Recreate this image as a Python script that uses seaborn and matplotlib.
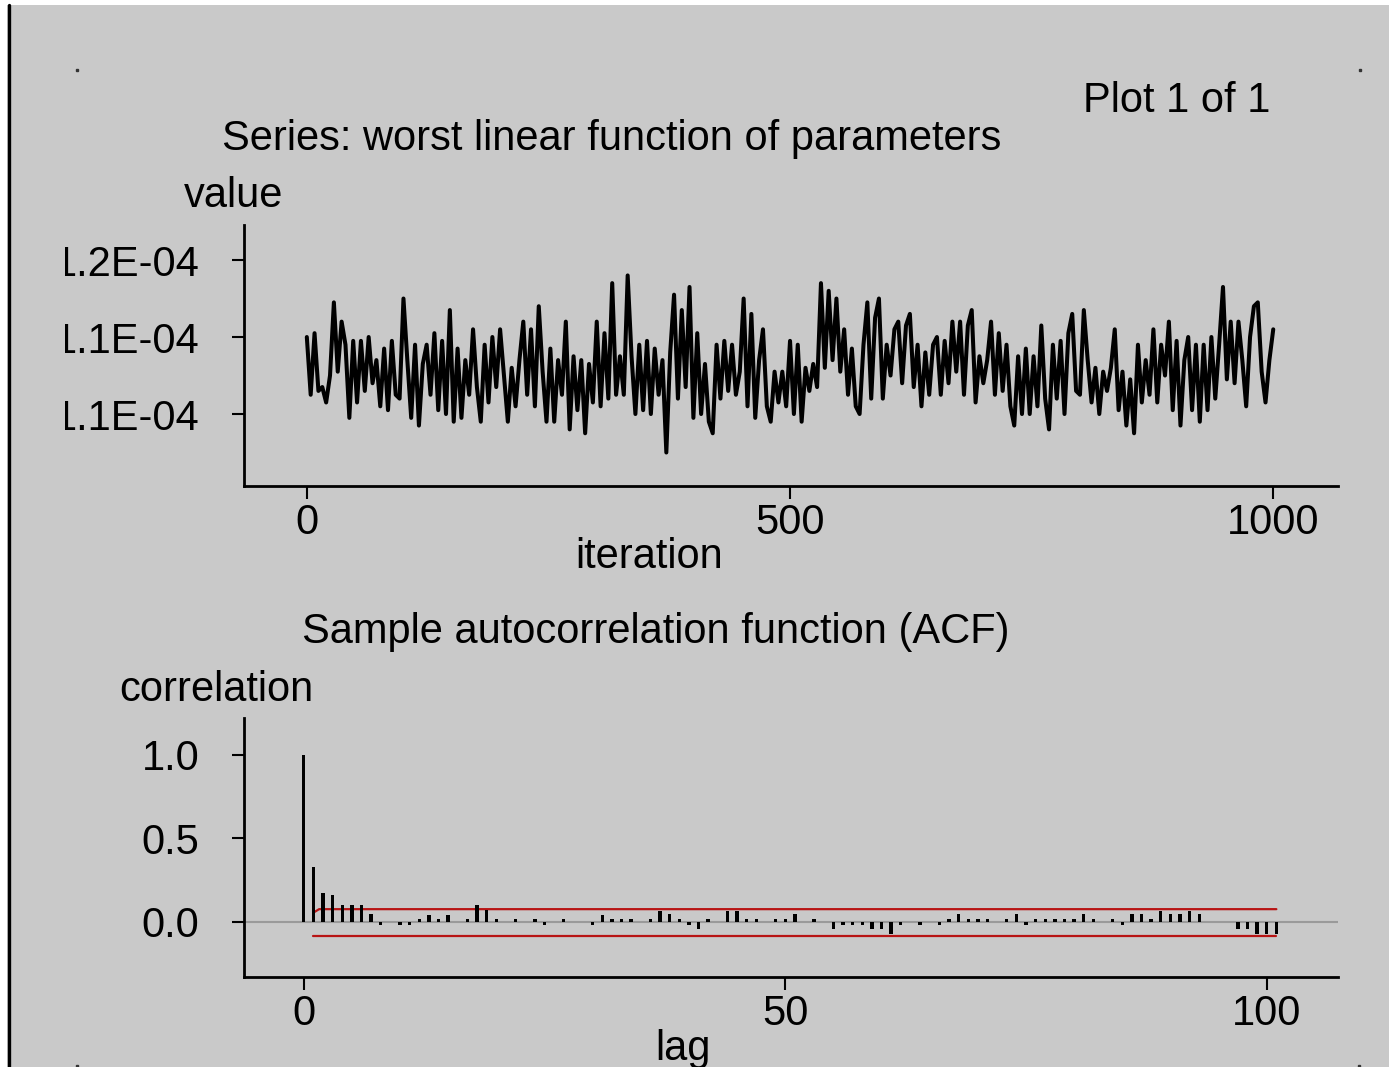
import matplotlib
matplotlib.use('Agg')
import matplotlib.pyplot as plt
import seaborn as sns
from matplotlib.transforms import Bbox, TransformedBbox

# trace of the worst linear function, read every 4th iteration (units of 1E-04)
iterations = list(range(0, 1001, 4))
values = [
    1.140, 1.125, 1.141, 1.126, 1.127, 1.123, 1.130, 1.149, 1.131, 1.144,
    1.138, 1.119, 1.139, 1.123, 1.139, 1.126, 1.140, 1.128, 1.134, 1.122,
    1.137, 1.121, 1.139, 1.125, 1.124, 1.150, 1.134, 1.119, 1.138, 1.117,
    1.133, 1.138, 1.125, 1.141, 1.121, 1.139, 1.120, 1.147, 1.118, 1.137,
    1.119, 1.134, 1.125, 1.142, 1.127, 1.118, 1.138, 1.123, 1.140, 1.127,
    1.142, 1.130, 1.118, 1.132, 1.122, 1.134, 1.144, 1.125, 1.142, 1.122,
    1.148, 1.131, 1.118, 1.137, 1.118, 1.134, 1.125, 1.144, 1.116, 1.135,
    1.121, 1.134, 1.115, 1.133, 1.123, 1.144, 1.122, 1.141, 1.124, 1.154,
    1.125, 1.135, 1.125, 1.156,
    1.135, 1.120, 1.138, 1.121, 1.139, 1.120, 1.137, 1.125, 1.134, 1.110,
    1.136, 1.151, 1.124, 1.147, 1.127, 1.153, 1.119, 1.141, 1.120, 1.133,
    1.118, 1.115, 1.138, 1.124, 1.139, 1.126, 1.138, 1.125, 1.131, 1.150,
    1.122, 1.146, 1.119, 1.134, 1.142, 1.122, 1.118, 1.131, 1.123, 1.131,
    1.122, 1.139, 1.120, 1.138, 1.118, 1.132, 1.126, 1.133, 1.127, 1.154,
    1.132, 1.152, 1.134, 1.150, 1.131, 1.142, 1.125, 1.137, 1.122, 1.120,
    1.138, 1.149, 1.124, 1.145, 1.150, 1.124, 1.138, 1.130, 1.142, 1.144,
    1.128, 1.143, 1.146, 1.127, 1.138, 1.122, 1.136, 1.125, 1.138, 1.140,
    1.125, 1.139, 1.128, 1.144, 1.131,
    1.144, 1.125, 1.143, 1.147, 1.123, 1.135, 1.128, 1.134, 1.144, 1.125,
    1.141, 1.126, 1.138, 1.122, 1.117, 1.135, 1.120, 1.137, 1.120, 1.135,
    1.122, 1.143, 1.124, 1.116, 1.138, 1.124, 1.139, 1.120, 1.141, 1.146,
    1.126, 1.125, 1.147, 1.134, 1.123, 1.132, 1.120, 1.131, 1.126, 1.132,
    1.142, 1.121, 1.131, 1.117, 1.129, 1.115, 1.138, 1.123, 1.134, 1.125,
    1.142, 1.123, 1.138, 1.130, 1.144, 1.121, 1.139, 1.117, 1.134, 1.140,
    1.121, 1.138, 1.118, 1.138, 1.121, 1.140, 1.124, 1.138, 1.153, 1.129,
    1.144, 1.128, 1.144, 1.134, 1.122, 1.140, 1.148, 1.149, 1.131, 1.123,
    1.134, 1.142,
]

lags = list(range(0, 102))
acf = [
    1.0, 0.33, 0.175, 0.16, 0.10, 0.10, 0.10, 0.045, -0.02, 0.0,
    -0.02, -0.02, 0.015, 0.04, 0.015, 0.04, 0.0, 0.015, 0.10, 0.07,
    0.015, 0.0, 0.015, 0.0, 0.015, -0.02, 0.0, 0.015, 0.0, 0.0,
    -0.02, 0.04, 0.015, 0.015, 0.015, 0.0, 0.015, 0.066, 0.045, 0.015,
    -0.02, -0.045, 0.015, 0.0, 0.066, 0.066, 0.015, 0.015, 0.0, 0.015,
    0.015, 0.045, 0.0, 0.015, 0.0, -0.045, -0.02, -0.02, -0.02, -0.045,
    -0.045, -0.07, -0.02, 0.0, -0.02, 0.0, -0.02, 0.015, 0.045, 0.015,
    0.015, 0.015, 0.0, 0.015, 0.045, -0.02, 0.015, 0.015, 0.015, 0.015,
    0.015, 0.045, 0.015, 0.0, 0.015, -0.02, 0.045, 0.045, 0.015, 0.066,
    0.045, 0.045, 0.066, 0.045, 0.0, 0.0, 0.0, -0.045, -0.045, -0.07,
    -0.07, -0.07,
]
band_lags = [1, 1.6, 101]
band_upper = [0.055, 0.076, 0.076]
band_lower = [-0.083, -0.083, -0.083]

value_ticks = [1.12, 1.14, 1.16]
iter_ticks = [0, 500, 1000]
acf_ticks = [0.0, 0.5, 1.0]
lag_ticks = [0, 50, 100]

bg = '#c9c9c9'
red = '#b81414'
W, H = 1389, 1067

sns.set_theme(style='ticks', rc={'axes.facecolor': bg, 'figure.facecolor': bg,
                                 'text.color': 'black'})
plt.rcParams['font.family'] = ['Liberation Sans', 'DejaVu Sans']
fs = 30

fig = plt.figure(figsize=(W / 100, H / 100), dpi=100, facecolor=bg)

# window frame: white strips, black left edge, corner dots
deco = fig.add_axes([0, 0, 1, 1])
deco.set_zorder(-1)
deco.set_xlim(0, W)
deco.set_ylim(H, 0)
deco.axis('off')
deco.axvspan(0, 7, color='white', lw=0)
deco.axhspan(0, 5, color='white', lw=0)
deco.plot([9, 9], [5, H], color='black', lw=2.4)
deco.plot([77, 1360, 77, 1359], [70, 70, 1066, 1066], ls='none',
          marker='s', ms=1.6, color='#333333')

ax1 = fig.add_axes([244 / W, 1 - 486 / H, 1094 / W, 261 / H])
ax2 = fig.add_axes([244 / W, 1 - 977 / H, 1094 / W, 259 / H])

sns.lineplot(x=iterations, y=values, color='black', lw=2.9,
             estimator=None, sort=False, ax=ax1)
ax1.set_xlim(-65, 1067)
ax1.set_ylim(1.1013, 1.1691)
ax1.set_xticks(iter_ticks)
ax1.set_xticklabels([str(t) for t in iter_ticks])
ax1.set_yticks(value_ticks)
ax1.set_yticklabels(['%.1E' % (v * 1e-4) for v in value_ticks])

ax2.axhline(0, color='#9a9a9a', lw=1.5, zorder=1)
sns.barplot(x=lags, y=acf, native_scale=True, width=0.35, color='black',
            saturation=1, linewidth=0, ax=ax2, zorder=3)
sns.lineplot(x=band_lags, y=band_upper, color=red, lw=1.6, ax=ax2, zorder=2)
sns.lineplot(x=band_lags, y=band_lower, color=red, lw=1.6, ax=ax2, zorder=2)
ax2.set_xlim(-6.2, 107.4)
ax2.set_ylim(-0.33, 1.22)
ax2.set_xticks(lag_ticks)
ax2.set_xticklabels([str(t) for t in lag_ticks])
ax2.set_yticks(acf_ticks)
ax2.set_yticklabels(['%.1f' % v for v in acf_ticks])

for ax in (ax1, ax2):
    ax.set_facecolor('none')
    sns.despine(ax=ax)
    for s in ('left', 'bottom'):
        ax.spines[s].set_linewidth(2)
        ax.spines[s].set_color('black')
    ax.tick_params(axis='both', direction='out', length=9, width=1.5,
                   color='black', labelsize=fs, labelcolor='black')
    ax.tick_params(axis='x', pad=3)
    ax.tick_params(axis='y', pad=23)
    ax.set_xlabel('')
    ax.set_ylabel('')

# the value labels are cut off on the left in the original window
clip = TransformedBbox(Bbox([[65 / W, 0], [1, 1]]), fig.transFigure)
for lab in ax1.get_yticklabels():
    lab.set_clip_box(clip)
    lab.set_clip_on(True)

fig.text(1083 / W, 1 - 112 / H, 'Plot 1 of 1', fontsize=fs, va='baseline')
fig.text(222 / W, 1 - 150 / H, 'Series: worst linear function of parameters',
         fontsize=fs, va='baseline')
fig.text(184 / W, 1 - 207 / H, 'value', fontsize=fs, va='baseline')
fig.text(575 / W, 1 - 568 / H, 'iteration', fontsize=fs, va='baseline')
fig.text(302 / W, 1 - 643 / H, 'Sample autocorrelation function (ACF)',
         fontsize=fs, va='baseline')
fig.text(119 / W, 1 - 701 / H, 'correlation', fontsize=fs, va='baseline')
fig.text(655 / W, 1 - 1060 / H, 'lag', fontsize=fs, va='baseline')

fig.savefig('out.png', dpi=100, facecolor=bg)
